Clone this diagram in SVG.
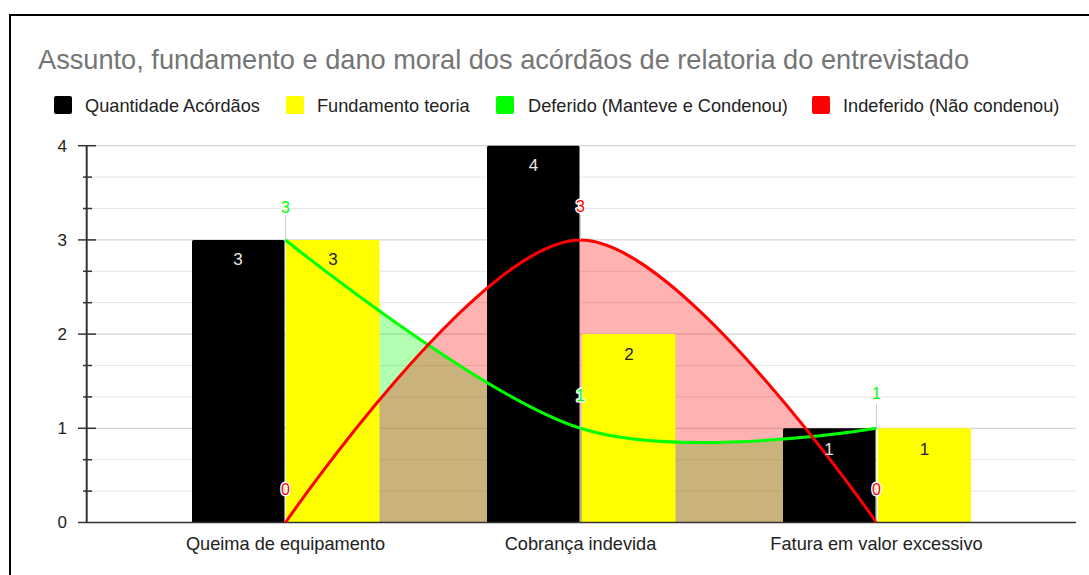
<svg xmlns="http://www.w3.org/2000/svg" width="1089" height="575" viewBox="0 0 1089 575">
<style>
text{font-family:"Liberation Sans",Arial,sans-serif}
.title{font-size:27.2px;fill:#757575}
.leg{font-size:18.2px;fill:#222}
.ax{font-size:17px;fill:#222}
.cat{font-size:18.2px;fill:#222;text-anchor:middle}
.bl{font-size:17px;text-anchor:middle}
.ann{font-size:16px;text-anchor:middle;stroke:#fff;stroke-width:3;paint-order:stroke;stroke-linejoin:round}
.gmaj{stroke:#cccccc;stroke-width:1}
.gmin{stroke:#e6e6e6;stroke-width:1}
.tick{stroke:#333;stroke-width:1.5}
.stem{stroke:#cccccc;stroke-width:1}
</style>
<rect x="0" y="0" width="1089" height="575" fill="#fff"/>
<rect x="10" y="15" width="1100" height="600" fill="none" stroke="#000" stroke-width="2"/>
<text class="title" x="38" y="68.5">Assunto, fundamento e dano moral dos acórdãos de relatoria do entrevistado</text>
<g id="legend">
<rect x="54" y="96" width="18" height="18" rx="2" fill="#000"/>
<text class="leg" x="85" y="111.5">Quantidade Acórdãos</text>
<rect x="286" y="96" width="18" height="18" rx="2" fill="#ffff00"/>
<text class="leg" x="317" y="111.5">Fundamento teoria</text>
<rect x="496" y="96" width="18" height="18" rx="2" fill="#00ff00"/>
<text class="leg" x="528" y="111.5">Deferido (Manteve e Condenou)</text>
<rect x="812" y="96" width="18" height="18" rx="2" fill="#ff0000"/>
<text class="leg" x="843" y="111.5">Indeferido (Não condenou)</text>
</g>
<g id="grid">
<line class="gmin" x1="87" y1="491.1" x2="1076" y2="491.1"/>
<line class="gmin" x1="87" y1="459.7" x2="1076" y2="459.7"/>
<line class="gmin" x1="87" y1="396.9" x2="1076" y2="396.9"/>
<line class="gmin" x1="87" y1="365.5" x2="1076" y2="365.5"/>
<line class="gmin" x1="87" y1="302.7" x2="1076" y2="302.7"/>
<line class="gmin" x1="87" y1="271.3" x2="1076" y2="271.3"/>
<line class="gmin" x1="87" y1="208.5" x2="1076" y2="208.5"/>
<line class="gmin" x1="87" y1="177.1" x2="1076" y2="177.1"/>
<line class="gmaj" x1="87" y1="428.3" x2="1076" y2="428.3"/>
<line class="gmaj" x1="87" y1="334.1" x2="1076" y2="334.1"/>
<line class="gmaj" x1="87" y1="239.9" x2="1076" y2="239.9"/>
<line class="gmaj" x1="87" y1="145.7" x2="1076" y2="145.7"/>
</g>
<g id="areas">
<path d="M285.5,240 C285.5,240 480,396.3 580.5,428.3 C681,460.3 876.5,428.3 876.5,428.3 L876.5,522.5 L285.5,522.5 Z" fill="#00ff00" fill-opacity="0.3"/>
<path d="M285.5,522.5 C285.5,522.5 480,240 580.5,240 C681,240 876.5,522.5 876.5,522.5 Z" fill="#ff0000" fill-opacity="0.3"/>
</g>
<g id="bars">
<rect x="192" y="240" width="92.5" height="282.5" rx="1.5" fill="#000"/>
<rect x="286" y="240" width="93.5" height="282.5" rx="1.5" fill="#ffff00"/>
<rect x="487" y="145.7" width="92.5" height="376.8" rx="1.5" fill="#000"/>
<rect x="582" y="334.1" width="93.5" height="188.4" rx="1.5" fill="#ffff00"/>
<rect x="783" y="428.3" width="92.5" height="94.2" rx="1.5" fill="#000"/>
<rect x="878" y="428.3" width="93" height="94.2" rx="1.5" fill="#ffff00"/>
</g>
<g id="axes">
<line x1="78" y1="522.5" x2="1076" y2="522.5" stroke="#333" stroke-width="1.5"/>
<line x1="86.7" y1="145" x2="86.7" y2="523" stroke="#333" stroke-width="2"/>
<line class="tick" x1="78" y1="145.7" x2="96" y2="145.7"/>
<line class="tick" x1="78" y1="239.9" x2="96" y2="239.9"/>
<line class="tick" x1="78" y1="334.1" x2="96" y2="334.1"/>
<line class="tick" x1="78" y1="428.3" x2="96" y2="428.3"/>
<line class="tick" x1="83" y1="177.1" x2="92" y2="177.1"/>
<line class="tick" x1="83" y1="208.5" x2="92" y2="208.5"/>
<line class="tick" x1="83" y1="271.3" x2="92" y2="271.3"/>
<line class="tick" x1="83" y1="302.7" x2="92" y2="302.7"/>
<line class="tick" x1="83" y1="365.5" x2="92" y2="365.5"/>
<line class="tick" x1="83" y1="396.9" x2="92" y2="396.9"/>
<line class="tick" x1="83" y1="459.7" x2="92" y2="459.7"/>
<line class="tick" x1="83" y1="491.1" x2="92" y2="491.1"/>
<text class="ax" x="67" y="151.5" text-anchor="end">4</text>
<text class="ax" x="67" y="245.8" text-anchor="end">3</text>
<text class="ax" x="67" y="340" text-anchor="end">2</text>
<text class="ax" x="67" y="434.2" text-anchor="end">1</text>
<text class="ax" x="67" y="528.4" text-anchor="end">0</text>
<text class="cat" x="285.5" y="550">Queima de equipamento</text>
<text class="cat" x="580.5" y="550">Cobrança indevida</text>
<text class="cat" x="876.5" y="550">Fatura em valor excessivo</text>
</g>
<g id="connectors">
<path d="M285.5,240 C285.5,240 480,396.3 580.5,428.3 C681,460.3 876.5,428.3 876.5,428.3" fill="none" stroke="#00ff00" stroke-width="3"/>
<path d="M285.5,522.5 C285.5,522.5 480,240 580.5,240 C681,240 876.5,522.5 876.5,522.5" fill="none" stroke="#ff0000" stroke-width="3"/>
</g>
<g id="bar-labels">
<text class="bl" x="238" y="265" fill="#e6e6e6">3</text>
<text class="bl" x="333" y="265" fill="#222">3</text>
<text class="bl" x="533.5" y="171" fill="#e6e6e6">4</text>
<text class="bl" x="629" y="359.5" fill="#222">2</text>
<text class="bl" x="829" y="454.5" fill="#e6e6e6">1</text>
<text class="bl" x="924.5" y="454.5" fill="#222">1</text>
</g>
<g id="annotations">
<line class="stem" x1="285.5" y1="215" x2="285.5" y2="240"/>
<line class="stem" x1="580.5" y1="215" x2="580.5" y2="240"/>
<line class="stem" x1="580.5" y1="403" x2="580.5" y2="428"/>
<line class="stem" x1="876.5" y1="404" x2="876.5" y2="428"/>
<line class="stem" x1="876.5" y1="498" x2="876.5" y2="521"/>
<text class="ann" x="285.5" y="212.5" fill="#00ff00" stroke="none">3</text>
<text class="ann" x="285.5" y="495" fill="#ff0000">0</text>
<text class="ann" x="580.5" y="212" fill="#ff0000">3</text>
<text class="ann" x="580.5" y="401" fill="#00ff00">1</text>
<text class="ann" x="876.5" y="399" fill="#00ff00">1</text>
<text class="ann" x="876.5" y="495" fill="#ff0000">0</text>
</g>
</svg>
